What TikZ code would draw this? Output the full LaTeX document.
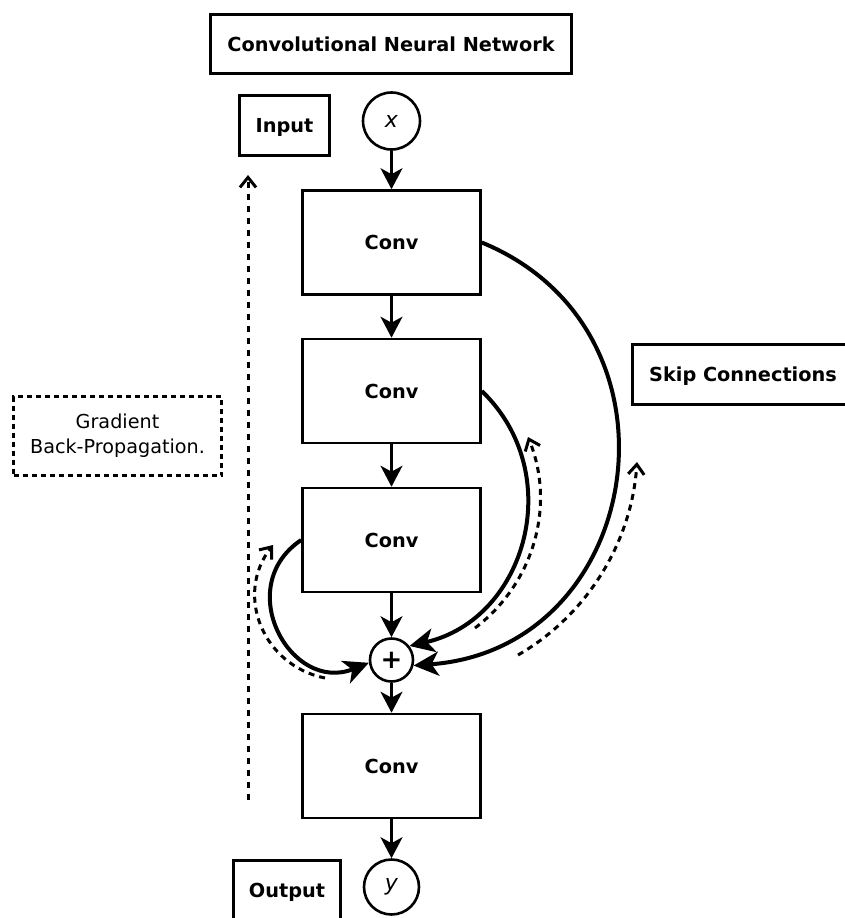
\documentclass[tikz,border=0pt]{standalone}
\usepackage{fontspec}
\setmainfont{DejaVu Sans}
\usetikzlibrary{arrows.meta}
\begin{document}
\begin{tikzpicture}[x=1pt,y=-1pt,
  txt/.style={font=\fontsize{19.2}{25}\selectfont},
  box/.style={draw,line width=2.6pt,inner sep=0pt,text depth=0pt,font=\fontsize{19.3}{25}\selectfont\bfseries},
  conv/.style={box,minimum width=178pt,minimum height=104pt},
  var/.style={draw,circle,line width=2.6pt,inner sep=0pt,minimum size=57pt,font=\fontsize{22}{24}\selectfont\itshape},
  flow/.style={line width=2.4pt,-{Stealth[length=21pt,width=22pt,inset=6pt]}},
  skip/.style={line width=4pt,-{Stealth[length=25pt,width=24pt,inset=7pt]}},
  grad/.style={line width=3pt,dash pattern=on 6pt off 5pt,-{Straight Barb[length=10pt,width=16pt]}},
]
\useasboundingbox (0,0) rectangle (845,918);

% labels
\node[box,minimum width=361pt,minimum height=59pt] (title) at (391,44) {Convolutional Neural Network};
\node[box,minimum width=90pt,minimum height=60pt] (input) at (284.5,125.5) {Input};
\node[box,minimum width=107pt,minimum height=59pt] (output) at (287,890) {Output};
\node[box,minimum width=221pt,minimum height=60pt] (skiplabel) at (743,374.5) {Skip Connections};
\node[txt,draw,line width=3pt,dash pattern=on 5pt off 4pt,minimum width=208pt,minimum height=79pt,inner sep=0pt,align=center] (gradlabel) at (117.5,436) {Gradient\\Back-Propagation.};

% network
\node[var] (x) at (391.5,121) {x};
\node[conv] (c1) at (391.5,242.5) {Conv};
\node[conv] (c2) at (391.5,391) {Conv};
\node[conv] (c3) at (391.5,540) {Conv};
\node[draw,circle,line width=2.6pt,minimum size=43pt,inner sep=0pt,font=\fontsize{26}{26}\selectfont\bfseries] (plus) at (391.5,660) {+};
\node[conv] (c4) at (391.5,766) {Conv};
\node[var,minimum size=55pt] (y) at (391.5,887) {y};

% main flow
\draw[flow] (x) -- (c1);
\draw[flow] (c1) -- (c2);
\draw[flow] (c2) -- (c3);
\draw[flow] (c3) -- (plus);
\draw[flow] (plus) -- (c4);
\draw[flow] (c4) -- (y);

% skip connections
\draw[skip] (c1.east) .. controls +(214,88) and +(231,-16.6) .. (plus.-14);
\draw[skip] (c2.east) .. controls +(86,83) and +(116.6,-26.7) .. (plus.38);
\draw[skip] (c3.west) .. controls +(-69.7,46.7) and +(-77.9,31.3) .. (plus.187);

% gradient flow
\coordinate (gL0) at (325,678);
\coordinate (gL1) at (273,545);
\coordinate (gM0) at (475,628);
\coordinate (gM1) at (528,437);
\coordinate (gR0) at (518,655);
\coordinate (gR1) at (637,462);
\coordinate (gV0) at (248,800);
\coordinate (gV1) at (248,175);
\draw[grad] (gL0) .. controls +(-62,-12.4) and +(-38.8,49.9) .. (gL1);
\draw[grad] (gM0) .. controls +(59,-44.8) and +(27.8,68.6) .. (gM1);
\draw[grad] (gR0) .. controls +(69.4,-40) and +(-5.3,79.9) .. (gR1);
\draw[grad,dash pattern=on 6pt off 6pt] (gV0) -- (gV1);
\end{tikzpicture}
\end{document}
